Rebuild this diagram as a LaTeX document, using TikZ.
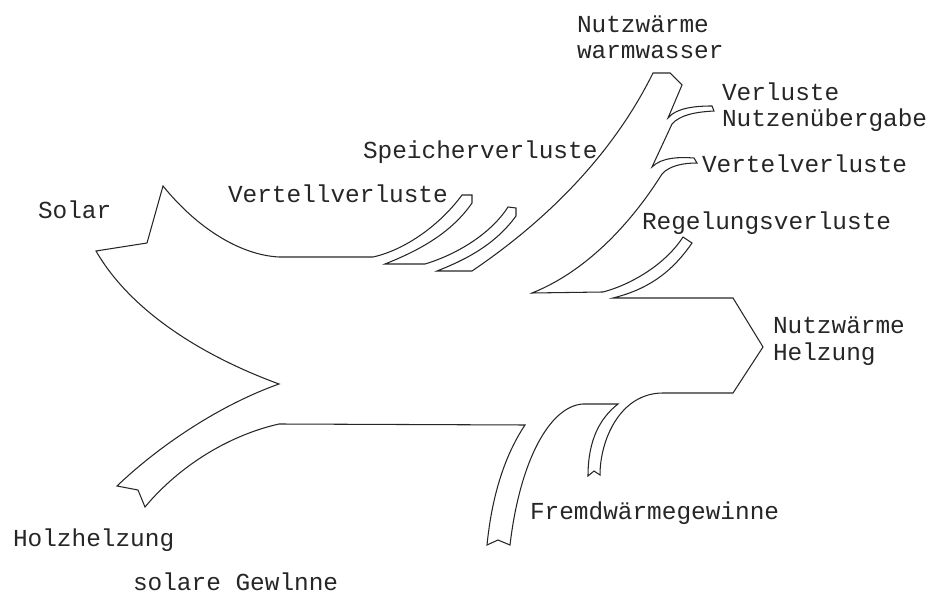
\documentclass[tikz,border=0pt]{standalone}
\usepackage{fontspec}
\setmainfont{Liberation Mono}
\begin{document}
\begin{tikzpicture}[x=0.02cm,y=-0.02cm,
  flow/.style={draw=black!85, line width=0.6pt, line join=miter},
  lbl/.style={anchor=base west, inner sep=0pt, outer sep=0pt, text=black!85, font=\fontsize{13.9}{16}\selectfont}]
\useasboundingbox (0,0) rectangle (943,597);
\draw[flow] (163,186) .. controls (197,228) and (240,255) .. (279,257)
 -- (373,257) .. controls (405,250) and (440,225) .. (462,195)
 -- (472,195) -- (472,203)
 .. controls (450,235) and (415,252) .. (385,264)
 -- (425,264) .. controls (455,255) and (490,235) .. (508,207)
 -- (516,208) -- (516,216)
 .. controls (495,245) and (465,260) .. (437,271)
 -- (472,271) .. controls (540,225) and (610,160) .. (653,73)
 -- (670,73) -- (682,85) -- (668,118)
 .. controls (676,108) and (695,106) .. (712,106)
 -- (714,111)
 .. controls (695,112) and (680,115) .. (672,124)
 -- (652,167)
 .. controls (662,157) and (680,157) .. (694,158)
 -- (697,163)
 .. controls (685,163) and (670,165) .. (662,174)
 .. controls (630,225) and (585,272) .. (532,293)
 -- (603,292) .. controls (630,285) and (665,265) .. (683,237)
 -- (692,243) .. controls (670,275) and (645,290) .. (613,298)
 -- (733,298) -- (763,347) -- (733,393) -- (663,393)
 .. controls (620,393) and (600,440) .. (600,475)
 -- (594,471) -- (588,476)
 .. controls (588,440) and (600,418) .. (618,404)
 -- (583,404) .. controls (550,406) and (520,460) .. (510,545)
 -- (498,540) -- (487,545)
 .. controls (492,495) and (505,455) .. (525,425)
 -- (279,424) .. controls (230,435) and (180,465) .. (145,507)
 -- (138,490) -- (117,486)
 .. controls (160,445) and (220,405) .. (279,384)
 .. controls (200,355) and (130,310) .. (96,251)
 -- (147,243) -- cycle;
\node[lbl] (solar) at (38,219) {Solar};
\node[lbl] (vert1) at (228,203) {Vertellverluste};
\node[lbl] (speicher) at (363,159) {Speicherverluste};
\node[lbl] (nwwa) at (577,33) {Nutzwärme};
\node[lbl] (nwwb) at (577,59) {warmwasser};
\node[lbl] (vnua) at (722,101) {Verluste};
\node[lbl] (vnub) at (722,127) {Nutzenübergabe};
\node[lbl] (vert2) at (702,173) {Vertelverluste};
\node[lbl] (regel) at (642,230) {Regelungsverluste};
\node[lbl] (nha) at (773,334) {Nutzwärme};
\node[lbl] (nhb) at (773,361) {Helzung};
\node[lbl] (fremd) at (530,520) {Fremdwärmegewinne};
\node[lbl] (holz) at (13,546) {Holzhelzung};
\node[lbl] (sgew) at (133,590) {solare Gewlnne};
\end{tikzpicture}
\end{document}
